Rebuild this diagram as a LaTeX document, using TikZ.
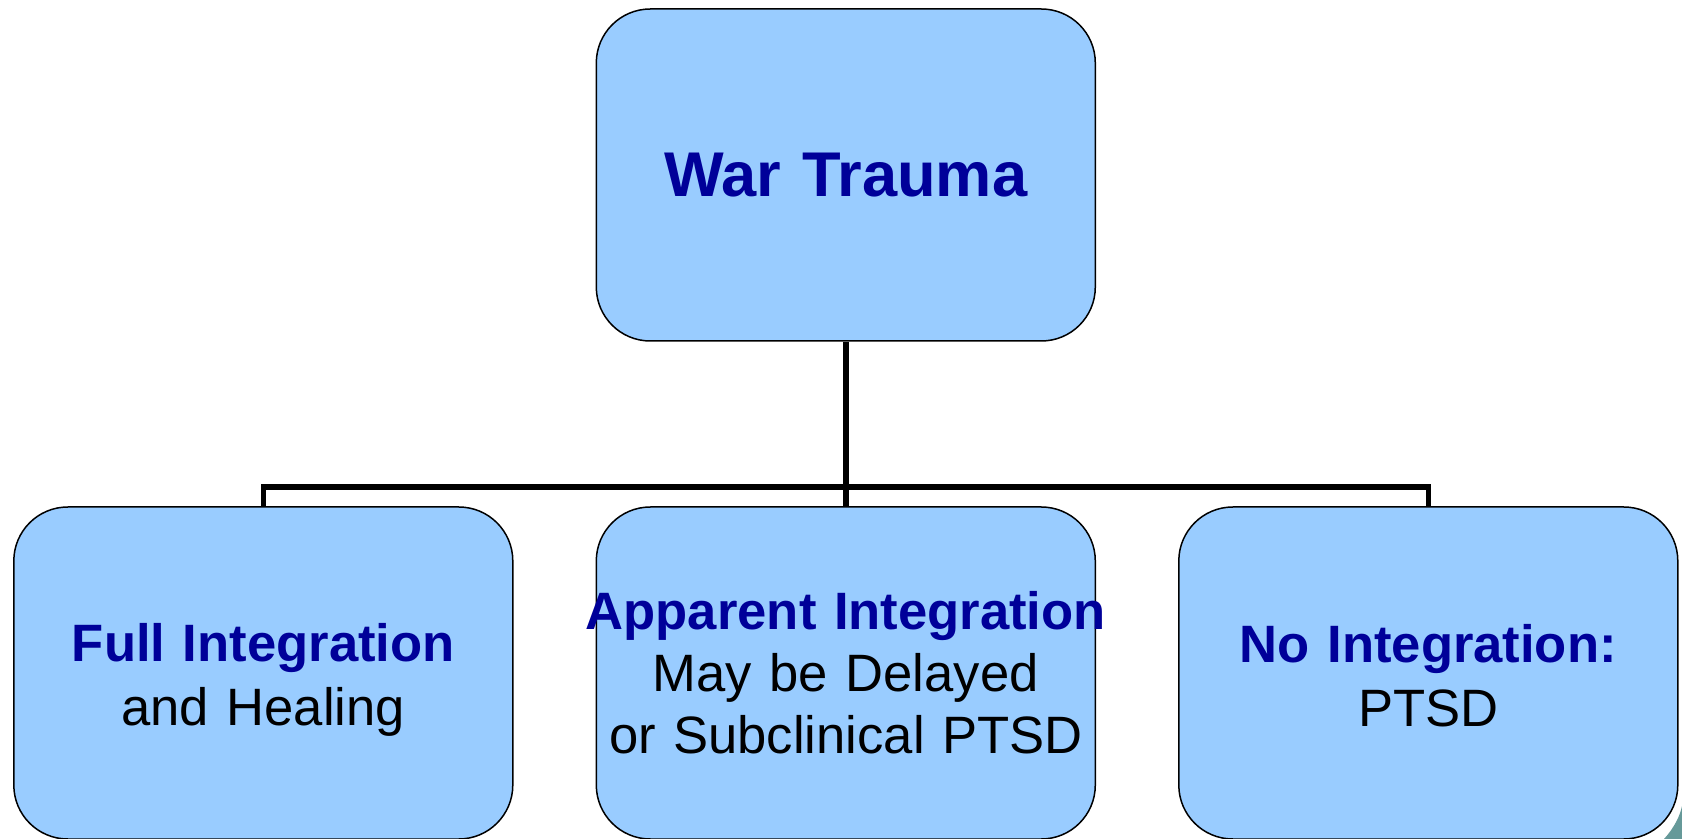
\documentclass[tikz,border=0pt]{standalone}
\usepackage{fontspec}
\setmainfont{Liberation Sans}
\usetikzlibrary{trees}
\definecolor{boxblue}{HTML}{99CCFF}
\definecolor{headblue}{HTML}{000099}
\definecolor{slideteal}{HTML}{669999}
\newcommand{\hd}[1]{{\color{headblue}\bfseries #1}}
\tikzset{
  otree/.style={level distance=249pt, sibling distance=291.25pt,
    edge from parent path={}},
  bx/.style  ={draw, line width=0.75pt, rounded corners=27pt, fill=boxblue, inner sep=0pt,
               text width=249.5pt, align=center, minimum height=166pt,
               font=\fontsize{26.3}{31}\selectfont},
  bx2/.style ={bx, font=\fontsize{26.3}{32}\selectfont},
  top/.style ={bx, font=\fontsize{31.6}{38}\selectfont\bfseries, text=headblue},
  conn/.style={draw, line width=2.8pt}
}
\begin{document}
\begin{tikzpicture}[otree]
\useasboundingbox (0,0) rectangle (841pt,-419.5pt);
\fill[slideteal] (832pt,-419.5pt) .. controls (837pt,-414pt) and (840pt,-408pt) .. (841pt,-403pt) -- (841pt,-419.5pt) -- cycle;
\node[top] (war) at (422.9pt,-87.5pt) {War Trauma}
  child { node[bx2] (full) {\rule{0pt}{25.5pt}\hd{Full Integration}\\ and Healing} }
  child { node[bx] (apparent) {\makebox[\linewidth]{\hd{Apparent Integration}}\\ May be Delayed\\ or Subclinical PTSD} }
  child { node[bx2] (none) {\rule{0pt}{21.5pt}\hd{No Integration:}\\ PTSD} };
% connectors
\path (war.south) ++(0,-72.5pt) coordinate (fork);
\draw[conn] (war.south) -- (fork);
\draw[conn] (full.north) |- (fork) -| (none.north);
\draw[conn] (fork) -- (apparent.north);
\end{tikzpicture}
\end{document}
